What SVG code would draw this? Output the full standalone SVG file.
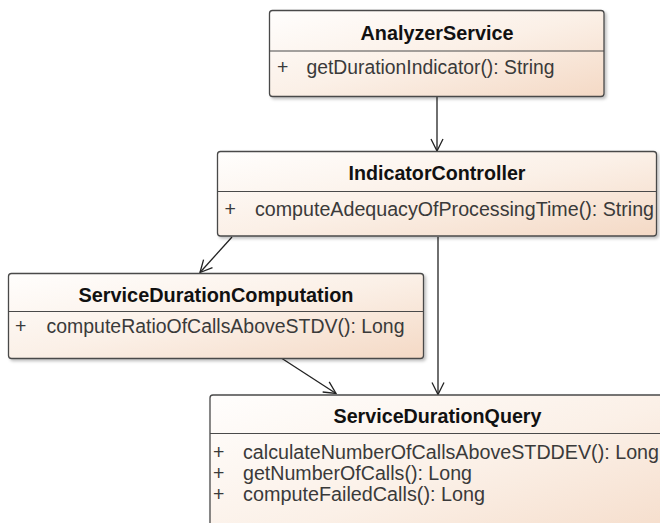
<svg xmlns="http://www.w3.org/2000/svg" width="660" height="523" viewBox="0 0 660 523">
  <style>
    .box { fill: url(#classFill); stroke: #4a4a4a; stroke-width: 1.3; filter: url(#shadow); }
    .sep { stroke: #4a4a4a; stroke-width: 1.2; }
    .title { font-family: "Liberation Sans", Arial, sans-serif; font-size: 20px; font-weight: bold; fill: #111; text-anchor: middle; }
    .op { font-family: "Liberation Sans", Arial, sans-serif; font-size: 19.5px; fill: #3a3a3a; }
    .edge { fill: none; stroke: #222; stroke-width: 1.3; marker-end: url(#open); }
  </style>
  <defs>
    <linearGradient id="classFill" x1="0" y1="0" x2="1" y2="1">
      <stop offset="0" stop-color="#fffefd"/>
      <stop offset="0.5" stop-color="#fbf0e7"/>
      <stop offset="1" stop-color="#f4d9c5"/>
    </linearGradient>
    <filter id="shadow" x="-5%" y="-5%" width="115%" height="125%">
      <feDropShadow dx="2" dy="2" stdDeviation="1.5" flood-color="#000" flood-opacity="0.25"/>
    </filter>
    <marker id="open" viewBox="0 0 14 14" refX="13" refY="7" markerWidth="14" markerHeight="14" markerUnits="userSpaceOnUse" orient="auto">
      <path d="M1,1 L13,7 L1,13" fill="none" stroke="#222" stroke-width="1.3"/>
    </marker>
  </defs>

  <rect width="660" height="523" fill="#ffffff"/>

  <!-- associations -->
  <g id="connectors">
    <line class="edge" x1="437" y1="97" x2="437" y2="151"/>
    <line class="edge" x1="232" y1="237" x2="200" y2="272.5"/>
    <line class="edge" x1="438" y1="237" x2="438" y2="394.5"/>
    <line class="edge" x1="282" y1="358.5" x2="336" y2="393.5"/>
  </g>

  <g id="AnalyzerService">
    <rect class="box" x="269.5" y="10.5" width="334.5" height="86" rx="3"/>
    <line class="sep" x1="269.5" y1="51" x2="604" y2="51"/>
    <text class="title" x="437" y="39.5" textLength="153" lengthAdjust="spacingAndGlyphs">AnalyzerService</text>
    <text class="op" x="277" y="73.5">+</text>
    <text class="op" x="306.5" y="73.5" textLength="248" lengthAdjust="spacingAndGlyphs">getDurationIndicator(): String</text>
  </g>

  <g id="IndicatorController">
    <rect class="box" x="217.5" y="151.5" width="439" height="84.5" rx="3"/>
    <line class="sep" x1="217.5" y1="191.5" x2="656.5" y2="191.5"/>
    <text class="title" x="437" y="180" textLength="177" lengthAdjust="spacingAndGlyphs">IndicatorController</text>
    <text class="op" x="224.5" y="215.5">+</text>
    <text class="op" x="255" y="215.5" textLength="399" lengthAdjust="spacingAndGlyphs">computeAdequacyOfProcessingTime(): String</text>
  </g>

  <g id="ServiceDurationComputation">
    <rect class="box" x="8.5" y="273.5" width="415" height="85" rx="3"/>
    <line class="sep" x1="8.5" y1="311.5" x2="423.5" y2="311.5"/>
    <text class="title" x="216" y="302" textLength="275" lengthAdjust="spacingAndGlyphs">ServiceDurationComputation</text>
    <text class="op" x="15" y="332.5">+</text>
    <text class="op" x="46.5" y="332.5" textLength="358" lengthAdjust="spacingAndGlyphs">computeRatioOfCallsAboveSTDV(): Long</text>
  </g>

  <g id="ServiceDurationQuery">
    <rect class="box" x="210" y="395" width="480" height="160" rx="3"/>
    <line class="sep" x1="210" y1="433.5" x2="690" y2="433.5"/>
    <text class="title" x="437.5" y="422.5" textLength="208" lengthAdjust="spacingAndGlyphs">ServiceDurationQuery</text>
    <text class="op" x="213" y="458.5">+</text>
    <text class="op" x="243" y="458.5" textLength="416" lengthAdjust="spacingAndGlyphs">calculateNumberOfCallsAboveSTDDEV(): Long</text>
    <text class="op" x="213" y="479.5">+</text>
    <text class="op" x="243" y="479.5" textLength="229" lengthAdjust="spacingAndGlyphs">getNumberOfCalls(): Long</text>
    <text class="op" x="213" y="500.5">+</text>
    <text class="op" x="243" y="500.5" textLength="242" lengthAdjust="spacingAndGlyphs">computeFailedCalls(): Long</text>
  </g>
</svg>
